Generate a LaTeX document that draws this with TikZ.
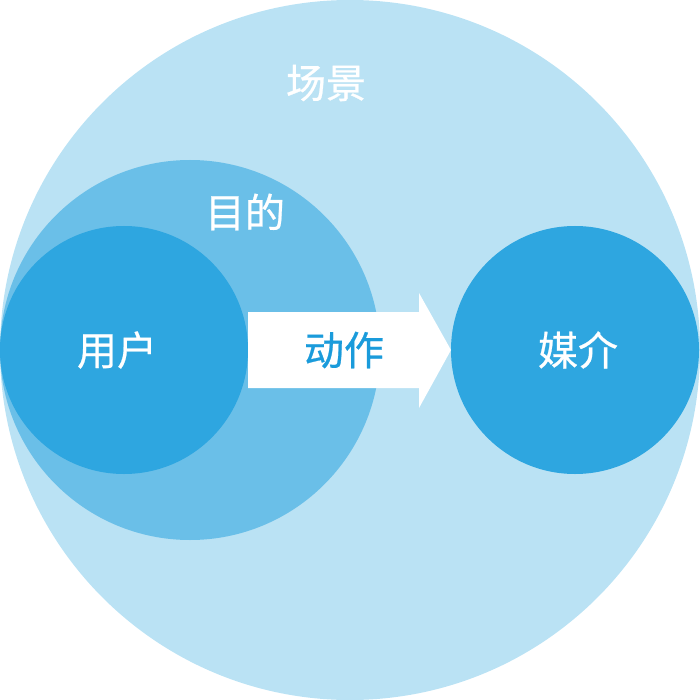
\documentclass[tikz,border=0pt]{standalone}
\usepackage{fontspec}
\newfontfamily\cjk[FakeBold=0.6]{Noto Sans CJK SC}
\definecolor{bgblue}{HTML}{BAE2F4}
\definecolor{midblue}{HTML}{6ABFE8}
\definecolor{darkblue}{HTML}{2EA6E0}
\definecolor{textblue}{HTML}{1A9BDB}
\begin{document}
\begin{tikzpicture}[x=1pt,y=-1pt,
  lbl/.style={font=\cjk\fontsize{40}{40}\selectfont, text=white, inner sep=0pt},
  circ/.style={circle, inner sep=0pt, draw=none}]
\useasboundingbox (0,0) rectangle (700,700);
\node[circ, fill=bgblue, minimum size=700pt] (scene) at (350,350) {};
\node[circ, fill=midblue, minimum size=380pt] (goal) at (190,350) {};
\node[circ, fill=darkblue, minimum size=248pt] (user) at (124,350) {};
\node[circ, fill=darkblue, minimum size=248pt] (media) at (575,350) {};
\fill[white] (248,312) -- (419,312) -- (419,293) -- (451,350) -- (419,408) -- (419,388) -- (248,388) -- cycle;
\node[lbl] (tscene) at (326,83) {场景};
\node[lbl] (tgoal) at (245,212) {目的};
\node[lbl] (tuser) at (117,350) {用户};
\node[lbl] (tmedia) at (578,350) {媒介};
\node[lbl, text=textblue] (taction) at (344,350) {动作};
\end{tikzpicture}
\end{document}
